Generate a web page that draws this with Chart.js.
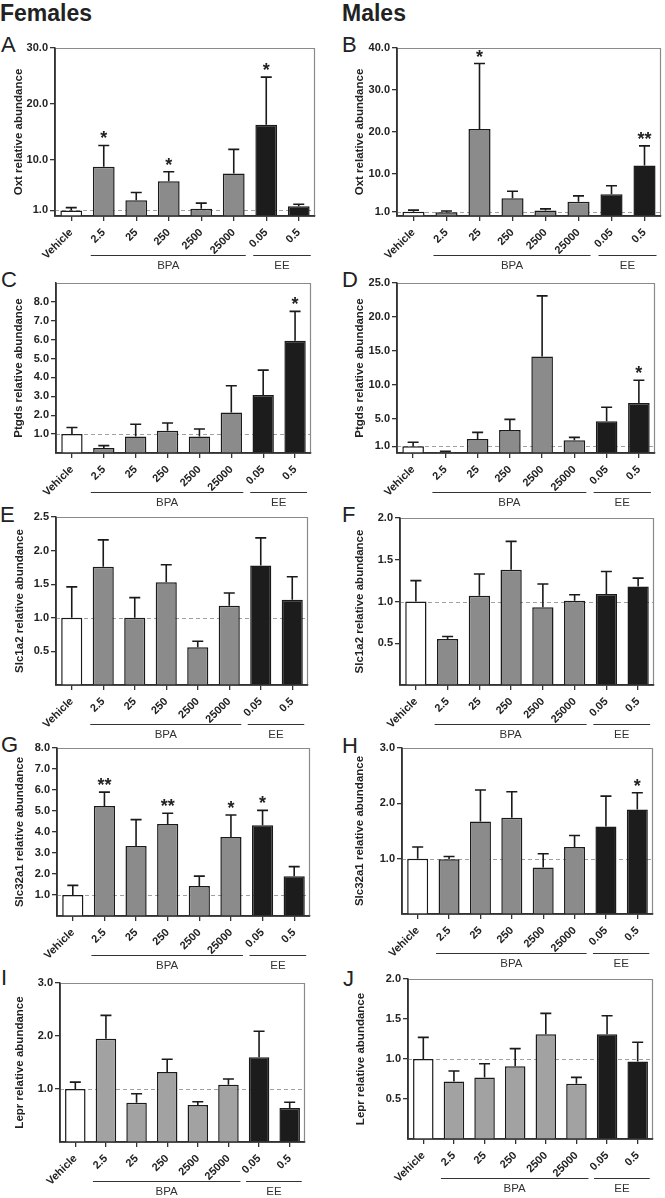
<!DOCTYPE html>
<html><head><meta charset="utf-8">
<script src="https://cdn.jsdelivr.net/npm/chart.js@4/dist/chart.umd.min.js"></script>
<style>
body{margin:0;background:#fff;}
#page{position:relative;width:665px;height:1198px;overflow:hidden;background:#fff;font-family:"Liberation Sans",Arial,sans-serif;color:#222;}
.lbl{position:absolute;font-size:22px;line-height:22px;white-space:nowrap;}
.hdr{font-weight:bold;font-size:23px;}
canvas{position:absolute;}
</style></head><body><div id="page">
<div class="lbl hdr" style="left:0px;top:2px">Females</div>
<div class="lbl hdr" style="left:342px;top:2px">Males</div>
<div class="lbl" style="left:1px;top:34px">A</div>
<div class="lbl" style="left:342px;top:34px">B</div>
<div class="lbl" style="left:1px;top:269px">C</div>
<div class="lbl" style="left:342px;top:269px">D</div>
<div class="lbl" style="left:0px;top:504px">E</div>
<div class="lbl" style="left:342px;top:504px">F</div>
<div class="lbl" style="left:1px;top:734px">G</div>
<div class="lbl" style="left:342px;top:735px">H</div>
<div class="lbl" style="left:1px;top:967px">I</div>
<div class="lbl" style="left:343px;top:968px">J</div>
</div>
<script>
// ---------- DATA ----------
const categories = ['Vehicle','2.5','25','250','2500','25000','0.05','0.5'];
const groupNames = ['BPA','EE'];
const groupFrom = [1, 6];
const groupTo = [5, 7];

const oxtF = [1.0, 8.8, 2.8, 6.2, 1.3, 7.6, 16.3, 1.75];
const oxtFsem = [0.5, 3.8, 1.4, 1.7, 1.0, 4.3, 8.5, 0.35];
const oxtFsig = ['', '*', '', '*', '', '', '*', ''];
const oxtFticks = [1, 10, 20, 30];

const oxtM = [1.0, 0.9, 20.7, 4.2, 1.3, 3.4, 5.2, 12.0];
const oxtMsem = [0.4, 0.3, 15.6, 1.7, 0.4, 1.4, 2.0, 4.7];
const oxtMsig = ['', '', '*', '', '', '', '', '**'];
const oxtMticks = [1, 10, 20, 30, 40];

const ptgdsF = [1.0, 0.26, 0.88, 1.18, 0.88, 2.15, 3.07, 5.94];
const ptgdsFsem = [0.35, 0.13, 0.64, 0.41, 0.39, 1.41, 1.32, 1.56];
const ptgdsFsig = ['', '', '', '', '', '', '', '*'];
const ptgdsFticks = [1, 2, 3, 4, 5, 6, 7, 8];

const ptgdsM = [1.0, 0.15, 2.06, 3.38, 14.2, 1.87, 4.66, 7.35];
const ptgdsMsem = [0.57, 0.1, 0.98, 1.57, 8.9, 0.43, 2.06, 3.35];
const ptgdsMsig = ['', '', '', '', '', '', '', '*'];
const ptgdsMticks = [1, 5, 10, 15, 20, 25];

const slc1a2F = [1.0, 1.76, 1.0, 1.53, 0.56, 1.18, 1.78, 1.27];
const slc1a2Fsem = [0.46, 0.40, 0.30, 0.26, 0.09, 0.19, 0.41, 0.34];
const slc1a2Fsig = ['', '', '', '', '', '', '', ''];
const slc1a2Fticks = [0.5, 1.0, 1.5, 2.0, 2.5];

const slc1a2M = [1.0, 0.55, 1.07, 1.38, 0.93, 1.01, 1.09, 1.18];
const slc1a2Msem = [0.25, 0.03, 0.26, 0.34, 0.28, 0.07, 0.27, 0.10];
const slc1a2Msig = ['', '', '', '', '', '', '', ''];
const slc1a2Mticks = [0.5, 1.0, 1.5, 2.0];

const slc32a1F = [1.0, 5.24, 3.33, 4.38, 1.43, 3.76, 4.32, 1.89];
const slc32a1Fsem = [0.46, 0.66, 1.26, 0.51, 0.47, 1.05, 0.71, 0.46];
const slc32a1Fsig = ['', '**', '', '**', '', '*', '*', ''];
const slc32a1Fticks = [1, 2, 3, 4, 5, 6, 7, 8];

const slc32a1M = [1.0, 0.99, 1.67, 1.74, 0.84, 1.21, 1.58, 1.89];
const slc32a1Msem = [0.21, 0.05, 0.57, 0.47, 0.25, 0.21, 0.55, 0.30];
const slc32a1Msig = ['', '', '', '', '', '', '', '*'];
const slc32a1Mticks = [1, 2, 3];

const leprF = [1.0, 1.95, 0.74, 1.32, 0.70, 1.08, 1.6, 0.64];
const leprFsem = [0.13, 0.44, 0.17, 0.24, 0.06, 0.11, 0.49, 0.11];
const leprFsig = ['', '', '', '', '', '', '', ''];
const leprFticks = [1, 2, 3];

const leprM = [1.0, 0.72, 0.77, 0.91, 1.31, 0.69, 1.31, 0.97];
const leprMsem = [0.27, 0.13, 0.17, 0.22, 0.26, 0.08, 0.23, 0.24];
const leprMsig = ['', '', '', '', '', '', '', ''];
const leprMticks = [0.5, 1.0, 1.5, 2.0];

// ---------- LAYOUT / STYLE ----------
const FONT = '"Liberation Sans", Arial, Helvetica, sans-serif';
const panels = [
  {mean: oxtF, sem: oxtFsem, sig: oxtFsig, ticks: oxtFticks, max: 30, title: 'Oxt relative abundance', box: [55, 48, 315, 216], tp: 12.4, grey: '#8b8b8b'},
  {mean: oxtM, sem: oxtMsem, sig: oxtMsig, ticks: oxtMticks, max: 40, title: 'Oxt relative abundance', box: [397, 48, 661, 216], tp: 11.4, grey: '#8b8b8b'},
  {mean: ptgdsF, sem: ptgdsFsem, sig: ptgdsFsig, ticks: ptgdsFticks, max: 9, title: 'Ptgds relative abundance', box: [56, 283, 311, 453], tp: 11.4, grey: '#8b8b8b'},
  {mean: ptgdsM, sem: ptgdsMsem, sig: ptgdsMsig, ticks: ptgdsMticks, max: 25, title: 'Ptgds relative abundance', box: [397, 283, 655, 453], tp: 11.4, grey: '#8b8b8b'},
  {mean: slc1a2F, sem: slc1a2Fsem, sig: slc1a2Fsig, ticks: slc1a2Fticks, max: 2.5, title: 'Slc1a2 relative abundance', box: [56, 517, 308, 685], tp: 12.4, grey: '#8b8b8b'},
  {mean: slc1a2M, sem: slc1a2Msem, sig: slc1a2Msig, ticks: slc1a2Mticks, max: 2.0, title: 'Slc1a2 relative abundance', box: [400, 518, 654, 685], tp: 8.4, grey: '#8b8b8b'},
  {mean: slc32a1F, sem: slc32a1Fsem, sig: slc32a1Fsig, ticks: slc32a1Fticks, max: 8, title: 'Slc32a1 relative abundance', box: [57, 748, 310, 916], tp: 11, grey: '#8b8b8b'},
  {mean: slc32a1M, sem: slc32a1Msem, sig: slc32a1Msig, ticks: slc32a1Mticks, max: 3, title: 'Slc32a1 relative abundance', box: [402, 748, 653, 914], tp: 6.4, grey: '#8b8b8b'},
  {mean: leprF, sem: leprFsem, sig: leprFsig, ticks: leprFticks, max: 3, title: 'Lepr relative abundance', box: [60, 983, 305, 1142], tp: 8.4, grey: '#a2a2a2'},
  {mean: leprM, sem: leprMsem, sig: leprMsig, ticks: leprMticks, max: 2, title: 'Lepr relative abundance', box: [408, 979, 653, 1139], tp: 1.4, grey: '#a2a2a2'}
];

const YW = 55, PADT = 10, PADR = 4, XH = 65;

const deco = {
  id: 'deco',
  beforeDatasetsDraw(chart, args, o) {
    const {ctx, chartArea: a, scales: {y}} = chart;
    const py = Math.round(y.getPixelForValue(1)) + 0.5;
    ctx.save();
    ctx.strokeStyle = '#a0a0a0'; ctx.lineWidth = 1; ctx.setLineDash([4, 3]);
    ctx.beginPath(); ctx.moveTo(a.left, py); ctx.lineTo(a.right, py); ctx.stroke();
    ctx.restore();
  },
  afterDatasetsDraw(chart, args, o) {
    const {ctx, chartArea: a, scales: {x, y}} = chart;
    const p = o.panel;
    ctx.save();
    ctx.strokeStyle = '#8a8a8a'; ctx.lineWidth = 1.2;
    ctx.beginPath(); ctx.moveTo(a.left, a.top + 0.5); ctx.lineTo(a.right - 0.5, a.top + 0.5); ctx.lineTo(a.right - 0.5, a.bottom); ctx.stroke();
    ctx.strokeStyle = '#333'; ctx.lineWidth = 1.5;
    ctx.beginPath(); ctx.moveTo(a.left, a.top); ctx.lineTo(a.left, a.bottom); ctx.lineTo(a.right, a.bottom); ctx.stroke();
    p.mean.forEach((m, i) => {
      const cx = x.getPixelForValue(i);
      const y0 = y.getPixelForValue(m), y1 = y.getPixelForValue(m + p.sem[i]);
      ctx.strokeStyle = '#1a1a1a'; ctx.lineWidth = 1.6;
      ctx.beginPath(); ctx.moveTo(cx, y0); ctx.lineTo(cx, y1);
      ctx.moveTo(cx - 5.5, y1); ctx.lineTo(cx + 5.5, y1); ctx.stroke();
      if (p.sig[i]) {
        ctx.fillStyle = '#222'; ctx.font = 'bold 18px ' + FONT;
        ctx.textAlign = 'center'; ctx.textBaseline = 'alphabetic';
        ctx.fillText(p.sig[i], cx, y1 - 1);
      }
    });
    ctx.restore();
  },
  afterDraw(chart, args, o) {
    const {ctx, chartArea: a, scales: {x}} = chart;
    ctx.save();
    ctx.strokeStyle = '#333'; ctx.lineWidth = 1;
    ctx.fillStyle = '#333'; ctx.font = '11.5px ' + FONT;
    ctx.textAlign = 'center'; ctx.textBaseline = 'middle';
    groupNames.forEach((g, k) => {
      const x0 = x.getPixelForValue(groupFrom[k]) - 13;
      const x1 = x.getPixelForValue(groupTo[k]) + 12;
      const ly = Math.round(a.bottom + 39) + 0.5;
      ctx.beginPath(); ctx.moveTo(x0, ly); ctx.lineTo(x1, ly); ctx.stroke();
      ctx.fillText(g, (x0 + x1) / 2, a.bottom + 50);
    });
    ctx.restore();
  }
};

const page = document.getElementById('page');
panels.forEach(p => {
  const [L, T, R, B] = p.box;
  const cv = document.createElement('canvas');
  const w = R - L + YW + PADR, h = B - T + PADT + XH;
  cv.width = w; cv.height = h;
  cv.style.left = (L - YW) + 'px'; cv.style.top = (T - PADT) + 'px';
  cv.style.width = w + 'px'; cv.style.height = h + 'px';
  page.appendChild(cv);
  const colors = categories.map((c, i) => i === 0 ? '#ffffff' : (i >= groupFrom[1] ? '#1c1c1c' : p.grey));
  new Chart(cv, {
    type: 'bar',
    data: {
      labels: categories,
      datasets: [{data: p.mean, backgroundColor: colors, borderColor: '#1a1a1a', borderWidth: 1.5,
        barPercentage: 0.67, categoryPercentage: 1.0}]
    },
    options: {
      responsive: false, animation: false, devicePixelRatio: 1,
      layout: {padding: {left: 0, top: PADT, right: PADR, bottom: 0}, autoPadding: false},
      plugins: {legend: {display: false}, tooltip: {enabled: false}, deco: {panel: p}},
      scales: {
        x: {
          offset: true,
          grid: {display: true, offset: false, drawOnChartArea: false, drawTicks: true, tickLength: 5, color: '#333', lineWidth: 1.3},
          border: {display: true, color: '#333', width: 1.5},
          ticks: {autoSkip: false, minRotation: 45, maxRotation: 45, padding: 5, color: '#222',
            font: {family: FONT, size: 11, weight: 'bold'}},
          afterFit(s) { s.height = XH; s.paddingLeft = 0; s.paddingRight = 0; s.paddingTop = 0; s.paddingBottom = 0; }
        },
        y: {
          min: 0, max: p.max,
          afterBuildTicks(s) { s.ticks = p.ticks.map(v => ({value: v})); },
          grid: {display: true, drawOnChartArea: false, drawTicks: true, tickLength: 5, color: '#333', lineWidth: 1.3},
          border: {display: true, color: '#333', width: 1.5},
          ticks: {padding: 2, color: '#222', font: {family: FONT, size: 11, weight: 'bold'},
            callback: v => Number(v).toFixed(1)},
          title: {display: true, text: p.title, color: '#222', font: {family: FONT, size: 11.5, weight: 'bold'},
            padding: {top: p.tp - 0.3, bottom: 0}},
          afterFit(s) { s.width = YW; s.paddingTop = 0; s.paddingBottom = 0; s.paddingLeft = 0; s.paddingRight = 0; }
        }
      }
    },
    plugins: [deco]
  });
});
</script>
</body></html>
